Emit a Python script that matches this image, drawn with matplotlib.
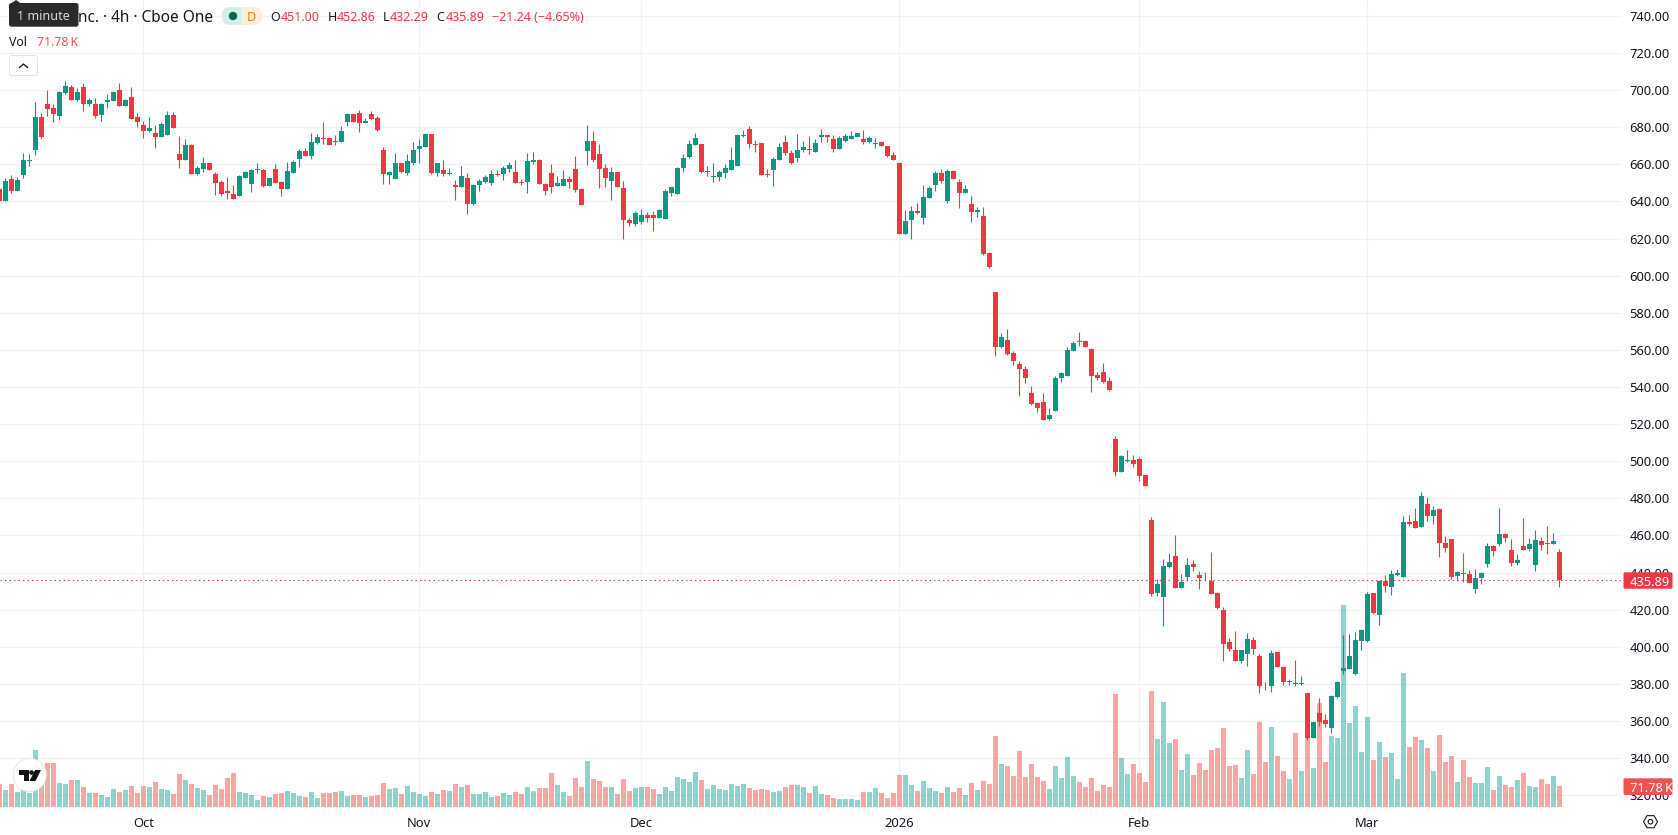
import numpy as np
import matplotlib
matplotlib.use('Agg')
import matplotlib.pyplot as plt
from matplotlib.patches import Rectangle, FancyBboxPatch, Polygon, Circle, RegularPolygon
from matplotlib.transforms import Affine2D

plt.rcParams['font.family'] = ['Noto Sans', 'DejaVu Sans']

# 4h candles, oldest first
opens = [647,640,652.2,645.9,654.3,662,668,685.6,692.6,690.6,
    686.1,698.5,701.6,694.7,701.7,692.6,692.6,686.6,693.8,694.2,
    700.1,691.5,696.3,685.6,681.3,678,677,674.8,675.9,686.6,
    665.6,662.4,670.5,654.9,657.5,660.8,654.9,650.5,645.7,644.1,
    643,652.7,649.5,657,657,648.4,657.5,650.5,646.8,655.4,
    662.9,667.2,664.6,671.6,674.2,674.2,672.6,672.1,682.9,687.2,
    687.7,682.3,687.2,685,667.8,654.3,652.2,660.8,655.4,660.8,
    668.3,669.4,676.4,655.4,657,654.9,648.9,647.8,652.7,638.7,
    648.9,650.5,650,654.9,654.9,657.5,655.9,650.5,650.5,661.3,
    662.4,649.5,655.4,648.4,648.4,652.2,657.5,646.8,667.2,672.6,
    665.6,658,651.1,655.9,647.3,630.1,627.9,629,632.8,632.8,
    631.1,630.6,644.6,644,658,664,670.5,671,655.9,653.2,
    653.2,655.4,657,659.2,675.3,679.1,671,671.6,654.9,657,
    662.4,672.1,666.2,663.5,667.8,668.3,666.7,674.8,675.9,673.7,
    668.3,672.6,673.7,674.8,673.7,672.1,671,672.1,669.9,665.1,
    660.8,622.5,630,634.9,631.1,641.9,648.9,655.4,640.3,656.5,
    650.5,644.6,638.7,634.4,632.2,612.3,591.3,561.6,565.4,558.4,
    552.5,549.8,536.8,531.4,532,522.8,527.1,544.9,546,559.5,
    564.9,564.9,560.5,546.5,548.2,543.3,512.1,494.3,500.2,500.8,
    501.3,492.7,468.4,429.1,427,443.1,449,431.8,437.7,444.7,
    438.8,438.3,435.6,429.1,420,402.7,398.4,392.5,396.2,403.8,
    395.2,379.5,379,397.3,389.2,380.9,380.6,380,375.2,351,
    364.4,360.7,356.4,373.1,387.1,388.2,385.5,403.2,403.2,429.1,
    417.2,435.6,432.3,438.8,437.7,467.3,467.8,464.6,477,470.5,
    474.3,456,458.1,438.2,439.9,439.3,431.3,437.2,444.7,454.4,
    455.4,460.8,452.2,445.2,454.4,452.8,444.2,457.1,456,455.4,451]
highs = [648,652.5,654.2,653.2,666,665.6,693.7,687.7,700.1,692.6,
    699.8,705,702.6,701.2,703.7,695.6,695.6,693.1,697.8,699.6,
    703.7,695,701.7,687.7,683.4,685.6,681.3,682.9,688.8,688.3,
    675.3,673.7,671,659.2,664,660.8,656,651.6,653.2,648.9,
    654.3,656.5,657.5,660.8,657.5,652.7,660.2,651,661.3,662.4,
    668.3,668.9,677,676.4,682.9,674.8,675.9,680.7,687.7,687.7,
    689.3,685,688.8,686.1,669.4,656.5,666.2,660.8,665.6,672.1,
    673.7,677,676.4,660.8,662.4,658,651.6,659.2,655.4,649.5,
    652.2,654.3,657,657,659.2,661.3,662.4,652.2,666.2,666.7,
    662.9,650,660.2,653.8,657,653.8,664.6,647.3,681.3,678,
    671,660.2,658.6,655.9,651.1,631.1,634.9,636,634.4,634.9,
    636,646.8,647.8,658.6,665.6,673.2,677,671,659.2,660.8,
    657,660.2,669.4,676.4,678.6,680.7,673.2,671.6,657.5,664,
    671.6,675.9,667.8,676.4,672.6,675.3,673.7,679.1,675.9,675.9,
    675.3,676.4,678,676.9,678.6,675.3,674.2,672.6,669.9,666.7,
    661.3,635.5,637.6,639.2,648.9,648.4,656.5,657.5,657.5,657,
    652.2,648.9,643,637,637,612.8,591.3,569.2,571.3,559.5,
    554.1,551.4,540.6,532,536.8,528.7,546,548.2,561.6,564.9,
    569.7,565.4,561.1,548.2,553,545.5,513.7,503.5,506.2,503.5,
    502.4,492.7,470.1,436.7,447.4,450.7,460.4,439.3,448,446.9,
    441,440.4,451.2,429.6,421.6,404.9,408.6,398.4,407.6,405.4,
    396.2,381.1,398.4,397.3,389.8,382.8,393,384.4,375.2,359.6,
    372.5,363.9,374.1,381.7,406.5,407,408.1,409.7,429.6,429.1,
    436.1,438.8,441.5,442,470.5,471,474.8,483.4,480.7,475.9,
    474.8,459.7,458.1,440.9,450.6,441.5,442,440.4,456,454.9,
    474.8,461.4,458.1,450.1,469.4,458.7,463,459.2,465.1,461.4,452.86]
lows = [640,640,644.8,645.9,652.7,659.3,665.1,674.3,686.1,683,
    684,698,694.7,694.2,688.8,691.7,685,683.6,690.6,694.2,
    691.5,691.5,684.5,680.2,674.3,677.5,668.9,674.8,675.9,679.6,
    658,662.4,654.9,654.3,655.9,657,643.5,643,641.4,641.4,
    643,652.7,645.2,655.4,647.8,648.4,650,643,646.8,655.4,
    658.6,664.6,662.9,671,671,670.5,670.5,672.1,680.7,682.9,
    677.5,682.3,684,678,649.5,649.5,652.2,655.4,654.3,659.7,
    660.8,669.4,654.9,653.8,653.8,654.3,640.8,647.8,633.3,638.1,
    645.7,650,648.9,653.8,651.6,655.9,650,648.9,644.6,660.2,
    649.5,643.5,644.6,648.4,648.4,647.3,645.2,638.1,659.7,661.3,
    647.3,647.8,640.8,647.8,619.8,626.8,626.8,627.9,629,624.1,
    631.1,630.6,643,644,655.9,663.5,670.5,655.4,653.8,650.5,
    651.1,652.7,657,659.2,674.8,668.9,666.7,654.3,653.2,648.4,
    662.4,665.1,660.2,661.3,666.7,665.6,666.7,672.1,672.1,666.7,
    668.3,672.1,673.7,674.8,671,671.6,668.9,669.9,664,662.4,
    622.5,622.5,619.8,633.3,627.9,641.9,645.7,650,639.2,652.2,
    636.5,644.6,629,631.7,611.2,604.2,556.8,561.1,557.3,552,
    535.2,542.2,530.4,526.6,522,522,527.1,542.8,546,559.5,
    562.2,561.6,537.4,543.8,542.2,537.9,492.2,494.3,499.7,497,
    489.5,486.8,427.5,427.5,411.3,442.6,431.8,431.8,435.6,441,
    431.3,435.6,428.6,420.5,392.5,397.9,392.5,391.4,389.8,396.2,
    375.2,376.8,375.8,389.2,379.5,379.5,379,379.5,349.9,351,
    357.4,356.9,353.7,372.5,385.5,388.2,384.9,398.4,402.7,417.8,
    411.9,429.6,428,438.3,437.7,465.1,464,464.6,467.8,466.2,
    448.5,451.1,436.6,435.6,435,434.5,429.1,433.9,443.1,449,
    454.4,456.5,443.6,444.2,452.2,451.7,440.9,452.2,450.1,455.4,432.29]
closes = [640,651.1,645.9,651.6,662.4,662.4,685.6,674.8,690,687.2,
    699,702.3,694.7,699,692.6,694.7,686.1,692.6,694.7,699,
    691.5,694.7,684.5,682.9,678,679.6,674.8,681.8,686.6,679.6,
    662.4,670.5,654.9,658,660.8,657,650,644.1,644.6,641.4,
    653.8,655.9,657,657.5,648.4,652.7,650,646.8,656.5,661.3,
    667.2,664.6,672.1,674.8,673.7,670.5,672.1,678,687.2,682.9,
    682.3,683.4,684.5,678.6,654.9,655.9,660.8,655.9,661.9,667.8,
    669.9,676.4,655.4,660.8,654.9,655.4,647.8,653.8,638.7,648.9,
    651.1,653.2,654.9,654.3,658,659.7,650,650.2,661.9,662.4,
    649.5,645.7,647.8,650,652.2,650.5,646.2,638.1,672.6,662.4,
    657.5,652.7,655.9,647.8,630.1,628.4,633.8,632.8,631.1,631.1,
    635.5,645.7,647.8,658,663.5,671,674.2,655.9,656.5,653.8,
    655.9,658,662.4,675.9,675.9,671,670.7,654.3,654.1,662.9,
    669.4,666.2,660.8,667.8,669.4,667.8,671.6,675.9,674.8,668.3,
    674.2,675.3,675.3,676.9,672.1,674.2,671.6,669.9,664.6,662.4,
    622.5,629.5,634.9,633.8,642.5,647.3,655.4,651.1,656.5,652.2,
    644.6,646.8,634.4,635.5,611.7,604.7,561.6,567,557.8,554.1,
    549.8,544.9,530.9,528.7,522.3,525,544.9,547.6,560,563.8,
    564.3,561.6,546,544.9,542.8,538.5,494.3,502.9,500.8,498.6,
    492.2,486.8,428.6,434,443.7,445.8,431.8,435,444.2,443.1,
    437.2,437.9,428.6,421,401.6,398.9,392.5,398.4,404.3,398.9,
    379,379.2,396.8,389.2,381.1,381.5,380,380.6,351,359.6,
    359.6,358.5,373.6,381.1,388.8,395.2,403.8,409.2,428.6,418.3,
    435.6,432.9,439.3,439.9,467.3,466.2,464,481.3,470.5,473.7,
    456,453.3,437.7,440.4,439.3,434.5,437.2,439.9,454.4,451.7,
    460.8,458.7,445.2,446.8,452.2,455.4,457.6,454.9,455.6,457.1,435.89]
# volume, thousands of shares
volumes = [78.6,58.1,78.6,51.3,58.1,47.8,194.8,80.9,150.3,150.3,
    82,78.6,92.3,92.3,68.3,47.8,47.8,41,34.2,61.5,
    51.3,58.1,71.8,47.8,71.8,68.3,85.4,61.5,58.1,44.4,
    112.8,92.3,78.6,64.9,58.1,41,75.2,61.5,99.1,116.2,
    51.3,47.8,41,23.9,37.6,34.2,44.4,47.8,54.7,47.8,
    37.6,34.2,51.3,30.8,47.8,47.8,51.3,54.7,37.6,41,
    41,34.2,37.6,41,82,61.5,64.9,44.4,71.8,51.3,
    44.4,37.6,51.3,44.4,58.1,54.7,78.6,68.3,75.2,44.4,
    44.4,51.3,34.2,37.6,47.8,41,51.3,44.4,68.3,54.7,
    64.9,64.9,116.2,75.2,51.3,37.6,99.1,68.3,157.2,95.7,
    88.8,68.3,68.3,44.4,95.7,54.7,64.9,68.3,68.3,61.5,
    44.4,68.3,54.7,102.5,95.7,85.4,119.6,92.3,61.5,75.2,
    61.5,58.1,78.6,71.8,78.6,64.9,58.1,61.5,58.1,51.3,
    54.7,68.3,75.2,75.2,68.3,47.8,71.8,44.4,41,30.8,
    27.3,27.3,27.3,23.9,51.3,51.3,64.9,47.8,30.8,47.8,
    109.3,109.3,75.2,54.7,88.8,64.9,54.7,47.8,68.3,51.3,
    64.9,41,82,58.1,88.8,78.6,242.6,146.9,140.1,105.9,
    191.4,102.5,146.9,102.5,88.8,61.5,140.1,99.1,170.9,105.9,
    85.4,68.3,99.1,54.7,75.2,68.3,387,167.4,112.8,146.9,
    116.2,85.4,396.4,232.4,358.8,218.7,232.4,126.4,181.1,109.3,
    150.3,126.4,194.8,201.6,269.9,140.1,143.5,99.1,194.8,112.8,
    290.4,153.8,273.4,174.3,123,95.7,252.9,123,235.8,133.3,
    355.4,153.8,242.6,235.8,690.4,287,345.1,187.9,307.5,160.6,
    222.1,170.9,184.5,95.7,457.9,205,239.2,228.9,201.6,123,
    246,153.8,174.3,85.4,160.6,102.5,82,82,136.7,58.1,
    105.9,75.2,68.3,92.3,116.2,71.8,68.3,95.7,78.6,105.9,71.78]

month_idx = [24, 70, 107, 150, 190, 228]
month_labels = ['Oct', 'Nov', 'Dec', '2026', 'Feb', 'Mar']
price_ticks = np.arange(320, 741, 20)
last_price = 435.89
last_vol = 71.78

W, H = 1678, 835
GREEN, RED = '#089981', '#F23645'
VOL_GREEN, VOL_RED = '#26a69a', '#ef5350'
GRID = '#f2f2f3'
TXT = '#131722'
PX = 0.72  # one pixel in points at dpi 100
AXIS_FS = 9.3

fig = plt.figure(figsize=(W / 100, H / 100), dpi=100, facecolor='white')
# pixel coordinates, origin top left, for the overlay furniture
px = Affine2D().scale(1 / W, -1 / H).translate(0, 1) + fig.transFigure

rect = [0, 1 - 811 / H, 1622 / W, 811 / H]
ax_grid = fig.add_axes(rect, zorder=0)
ax_vol = fig.add_axes(rect, zorder=1, facecolor='none')
ax = fig.add_axes(rect, zorder=2, facecolor='none')

xlim = (0.1167, 270.45)
ylim = (311.5, 748.6)
idx = np.arange(len(opens))
opens, highs, lows, closes = map(np.array, (opens, highs, lows, closes))
up = closes >= opens

# background grid
ax_grid.set_xlim(xlim); ax_grid.set_ylim(ylim)
for y in price_ticks:
    ax_grid.axhline(y, color=GRID, lw=PX * 1.2)
for i in month_idx:
    ax_grid.axvline(i, color=GRID, lw=PX * 1.2)
ax_grid.axis('off')

# volume pane shares the bottom of the chart
ax_vol.set_xlim(xlim); ax_vol.set_ylim(-13.67, 2758)
ax_vol.bar(idx, volumes, width=5 / 6, linewidth=0, alpha=0.5,
           color=[VOL_GREEN if u else VOL_RED for u in up])
ax_vol.axis('off')

# candles
ax.set_xlim(xlim); ax.set_ylim(ylim)
colors = [GREEN if u else RED for u in up]
ax.vlines(idx, lows, highs, colors=colors, lw=PX * 1.1)
ax.bar(idx, np.abs(closes - opens), bottom=np.minimum(opens, closes), width=5 / 6,
       color=colors, linewidth=0)
ax.axhline(last_price, color=RED, lw=PX * 1.1, ls=(0, (1.3, 2.8)), zorder=1)

for s in ax.spines.values():
    s.set_visible(False)
ax.yaxis.tick_right()
ax.set_yticks(price_ticks, [f'{p:.2f}' for p in price_ticks])
ax.set_xticks(month_idx, month_labels)
ax.tick_params(length=0, labelsize=AXIS_FS, labelcolor=TXT)
ax.tick_params(axis='y', pad=5.5)
ax.tick_params(axis='x', pad=4.2)
ax.get_xticklabels()[3].set_fontweight('bold')

# last value badges on the price scale
for y0, y1, c, label in [(572.3, 588.7, RED, f'{last_price:.2f}'),
                         (778.3, 795, VOL_RED, f'{last_vol:.2f}\u2009K')]:
    fig.add_artist(FancyBboxPatch((1623.5, y0), 49, y1 - y0, boxstyle='round,pad=0,rounding_size=1.5',
                                  transform=px, fc=c, ec='none', zorder=5))
    fig.text(1630, (y0 + y1) / 2, label, transform=px, color='white', fontsize=AXIS_FS,
             va='center_baseline', zorder=6)

# legend row
HEAD = 9.6
fig.text(78.5, 16, 'nc. \u00b7 4h \u00b7 Cboe One', transform=px, color=TXT, fontsize=11.1, va='center_baseline')
fig.add_artist(FancyBboxPatch((222, 7), 40, 18, boxstyle='round,pad=0,rounding_size=8', transform=px,
                              fc='#fdeedb', ec='none', zorder=3))
fig.add_artist(FancyBboxPatch((222, 7), 20, 18, boxstyle='round,pad=0,rounding_size=8', transform=px,
                              fc='#d5efe9', ec='none', zorder=3))
fig.add_artist(Rectangle((234, 7), 8, 18, transform=px, fc='#d5efe9', ec='none', zorder=3))
fig.add_artist(Circle((233, 16), 4.2, transform=px, fc='#056656', ec='none', zorder=4))
fig.text(251, 16, 'D', transform=px, color='#f57c00', fontsize=9.2, fontweight='bold', ha='center',
         va='center_baseline', zorder=4)
for x, s, c in [(270, 'O', TXT), (281, '451.00', RED), (327.5, 'H', TXT), (337, '452.86', RED),
                (383, 'L', TXT), (389.6, '432.29', RED), (436.7, 'C', TXT), (446, '435.89', RED),
                (492, '\u221221.24 (\u22124.65%)', RED)]:
    fig.text(x, 16, s, transform=px, color=c, fontsize=HEAD * 0.93, va='center_baseline')
fig.text(9, 40.5, 'Vol', transform=px, color=TXT, fontsize=HEAD * 0.93, va='center_baseline')
fig.text(36.8, 40.5, f'{last_vol:.2f}\u2009K', transform=px, color=VOL_RED, fontsize=HEAD * 0.93, va='center_baseline')

# collapse button
fig.add_artist(FancyBboxPatch((9.5, 55.5), 28, 20, boxstyle='round,pad=0,rounding_size=2.5', transform=px,
                              fc='white', ec='#e0e3eb', lw=PX, zorder=3))
fig.add_artist(plt.Line2D([19.5, 23.5, 27.5], [67.5, 64, 67.5], transform=px, color=TXT, lw=PX * 1.3, zorder=4))

# tooltip
fig.add_artist(Polygon([[11, 3.5], [16, 0], [21, 3.5]], transform=px, fc='#2a2a2a', ec='none', zorder=7))
fig.add_artist(FancyBboxPatch((9, 3), 69.5, 23.7, boxstyle='round,pad=0,rounding_size=2.5', transform=px,
                              fc='#2a2a2a', ec='none', zorder=7))
fig.text(43.7, 15.5, '1 minute', transform=px, color='#d8d8d8', fontsize=9.1, ha='center',
         va='center_baseline', zorder=8)

# watermark badge
fig.add_artist(Circle((29.6, 775), 16.5, transform=px, fc='white', ec='#ebebeb', lw=PX * 1.3, zorder=3))
fig.add_artist(Polygon([[18.5, 770], [29, 770], [29, 781], [23.5, 781], [23.5, 774.5], [18.5, 774.5]],
                       transform=px, fc='#111', ec='none', zorder=4))
fig.add_artist(Circle((31.5, 772.5), 2.3, transform=px, fc='#111', ec='none', zorder=4))
fig.add_artist(Polygon([[35, 770], [41, 770], [35.5, 781], [29.5, 781]], transform=px, fc='#111', ec='none', zorder=4))

# scale settings icon
fig.add_artist(RegularPolygon((1650.5, 821.7), 6, radius=7, orientation=np.pi / 6, transform=px,
                              fc='white', ec=TXT, lw=PX * 1.1, zorder=4))
fig.add_artist(Circle((1650.5, 821.7), 2.3, transform=px, fc='white', ec=TXT, lw=PX * 1.1, zorder=5))

fig.savefig('out.png', dpi=100)
